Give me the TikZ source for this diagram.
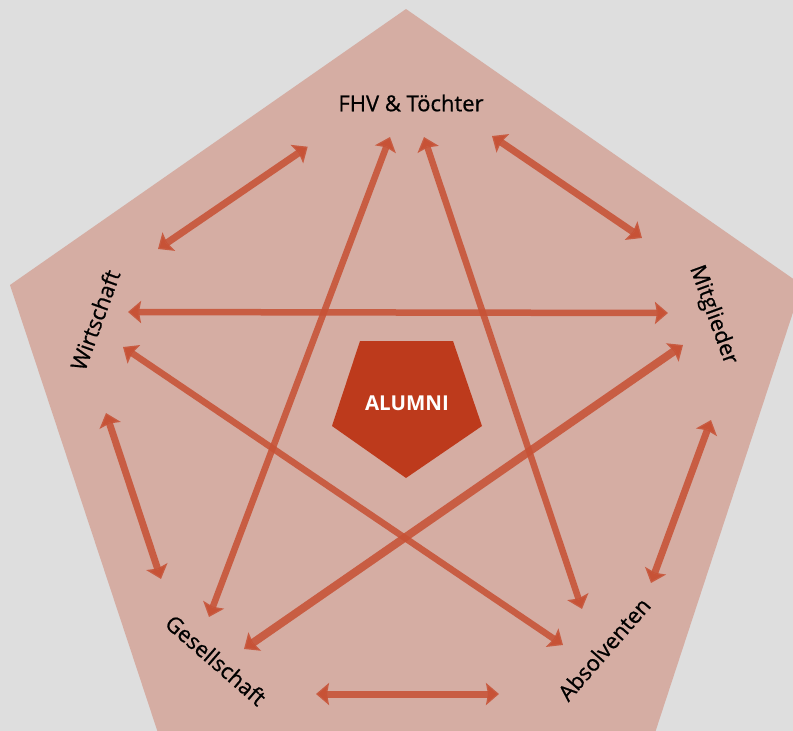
\documentclass[tikz,border=0pt]{standalone}
\usepackage{fontspec}
\setmainfont{Open Sans}
\newfontfamily\medfont{Open Sans}[FakeBold=0.7]
\usetikzlibrary{arrows.meta}
\definecolor{bggray}{RGB}{222,222,222}
\definecolor{pentfill}{RGB}{213,173,163}
\definecolor{arrowred}{RGB}{199,82,54}
\definecolor{alumnired}{RGB}{189,58,28}
\tikzset{
  link/.style={draw=arrowred, draw opacity=0.88, line width=7pt,
    {Stealth[length=13pt,width=22pt,inset=2pt]}-{Stealth[length=13pt,width=22pt,inset=2pt]}},
  longlink/.style={link, line width=6.5pt},
  lbl/.style={font=\medfont\fontsize{22}{24}\selectfont, text=black, inner sep=0pt},
}
\begin{document}
\begin{tikzpicture}[x=1pt,y=-1pt]
\useasboundingbox (0,0) rectangle (793,731);
\clip (0,0) rectangle (793,731);
\fill[bggray] (0,0) rectangle (793,731);
\fill[pentfill] (406,9) -- (802,285) -- (652,742) -- (161,742) -- (10,285) -- cycle;
% centre pentagon
\fill[alumnired] (360,341) -- (453,341) -- (482,426) -- (406,478) -- (332,426) -- cycle;
\node[font=\bfseries\fontsize{20.5}{24}\selectfont, text=white, inner sep=0pt] (alumni) at (407,403) {ALUMNI};
% labels
\node[lbl] (fhv) at (411,103) {FHV \& Töchter};
\node[lbl, rotate=70] (wirt) at (95,320) {Wirtschaft};
\node[lbl, rotate=-70] (mitg) at (713,315) {Mitglieder};
\node[lbl, rotate=-41] (gese) at (216,660) {Gesellschaft};
\node[lbl, rotate=49] (absv) at (604,649) {Absolventen};
% arrow endpoints
\coordinate (a1) at (307.7,146.7); \coordinate (b1) at (158,249);
\coordinate (a2) at (492,136);     \coordinate (b2) at (642,238);
\coordinate (a3) at (711,420);     \coordinate (b3) at (651,583);
\coordinate (a4) at (106,413);     \coordinate (b4) at (161,579);
\coordinate (a5) at (316,694);     \coordinate (b5) at (499,694);
\coordinate (a6) at (128,312);     \coordinate (b6) at (668,313);
\coordinate (a7) at (123,347);     \coordinate (b7) at (563,645);
\coordinate (a8) at (683,345);     \coordinate (b8) at (244,649);
\coordinate (a9) at (390,137);     \coordinate (b9) at (209,617);
\coordinate (a10) at (424,137);    \coordinate (b10) at (582,609);
% short arrows
\draw[link] (a1) -- (b1);
\draw[link] (a2) -- (b2);
\draw[link] (a3) -- (b3);
\draw[link] (a4) -- (b4);
\draw[link] (a5) -- (b5);
% long arrows
\draw[longlink] (a6) -- (b6);
\draw[longlink] (a7) -- (b7);
\draw[longlink, line width=8pt] (a8) -- (b8);
\draw[longlink] (a9) -- (b9);
\draw[longlink] (a10) -- (b10);
\end{tikzpicture}
\end{document}
